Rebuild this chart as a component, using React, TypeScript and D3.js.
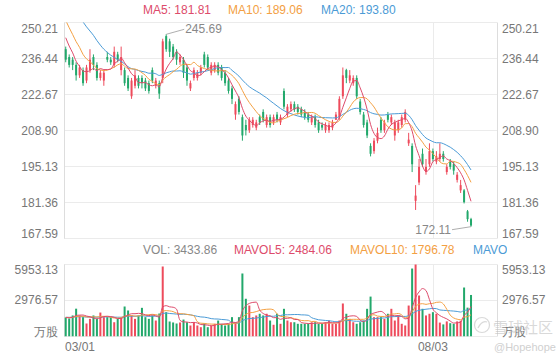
import React from "react";
import * as d3 from "d3";

// ---------- data ----------
const preCloses = [272, 270, 271, 268, 269, 270, 268, 267, 269, 266, 262, 260, 257, 255, 254, 250, 247, 246, 243];
const preVolumes = [1500, 1650, 1580, 1720, 1490, 1610, 1550, 1800, 1530, 1470, 1620, 1580, 1690, 1520, 1560, 1640, 1480, 1600, 1570];

const opens = [
  240, 237, 236, 234, 230, 232, 228, 232, 237, 234,
  229, 228, 237, 236, 234, 238, 232, 232, 229, 222,
  226, 229, 229, 228, 227, 232, 226, 227, 229, 245,
  243, 241, 239, 235, 236, 233, 225, 229, 229, 231,
  238, 237, 231, 232, 234, 233, 231, 228, 225, 215,
  221, 214, 211, 209, 211, 210, 214, 216, 211, 214,
  212, 215, 212, 224, 215, 217, 219, 218, 217, 216,
  215, 212, 214, 212, 211, 209, 209, 210, 213, 214,
  222, 232, 228, 227, 229, 220, 215, 212, 203, 201,
  205, 213, 209, 215, 212, 207, 209, 211, 213, 204,
  203, 182, 189, 200, 193, 196, 201, 197, 198, 200,
  193, 197, 196, 190, 186, 186, 178, 175,
];
const highs = [
  241, 238, 237, 235, 234, 233, 234, 240, 238, 235,
  232, 232, 239, 237, 241, 239, 241, 233, 230, 229,
  232, 230, 230, 229, 228, 233, 229, 228, 244, 245.69,
  244, 242, 240, 238, 237, 234, 228, 233, 232, 234,
  239, 238, 235, 235, 235, 234, 232, 229, 226, 220,
  222, 215, 213, 214, 214, 213, 215, 217, 215, 215,
  215, 216, 215, 225, 219, 220, 220, 219, 218, 217,
  216, 215, 215, 213, 212, 212, 212, 213, 216, 222,
  233, 232.5, 232, 230, 230, 221, 216, 213, 204, 206,
  210, 214, 213, 216, 215, 213, 213, 215, 217, 208,
  204, 188, 198, 202, 198, 204, 202, 201, 204, 201,
  196, 198, 197, 193, 190, 186.5, 178.5, 175.5,
];
const lows = [
  235, 233, 232, 228, 229, 226, 227, 231, 232, 228,
  228, 226, 235, 234, 233, 235, 230, 226, 224, 221,
  225, 225, 225, 224, 223, 227, 225, 221, 227, 239,
  237, 236, 234, 234, 229, 226, 224, 228, 228, 230,
  233, 232, 230, 231, 230, 228, 226, 223, 219, 213,
  215, 205, 207, 208, 210, 209, 211, 212, 210, 210,
  211, 212, 211, 217, 214, 216, 216, 215, 214, 213,
  212, 211, 210, 208, 209, 208, 208, 209, 213, 213,
  221, 227, 227, 226, 221, 215, 210, 206, 199, 200,
  204, 208, 208, 212, 211, 205, 208, 210, 212, 203,
  193, 178.5, 188, 195, 192, 195, 197, 196, 197, 197,
  192, 194, 192, 189, 185, 181, 174, 172.11,
];
const closes = [
  236, 234, 234, 230, 233, 227, 233, 236, 234, 229,
  231, 231, 236, 235, 239, 236, 237, 227, 225, 228,
  230, 226, 227, 225, 224, 228, 228, 223, 243, 240,
  239, 237, 236, 237, 231, 228, 227, 232, 231, 233,
  234, 233, 234, 234, 231, 229, 227, 224, 221, 219,
  216, 207, 209, 213, 213, 212, 212, 213, 214, 211,
  214, 213, 214, 218, 218, 219, 217, 216, 215, 214,
  213, 214, 211, 209, 210, 211, 211, 212, 215, 221,
  230, 229, 230, 229, 222, 216, 211, 207, 200, 205,
  208, 209, 212, 213, 214, 212, 212, 214, 216, 205.4,
  196, 184, 195, 196, 195, 201, 198, 199, 200, 198,
  195, 195, 193.55, 192, 188, 181.5, 175, 172.55,
];
const volumes = [
  1570, 1490, 1740, 2300, 1740, 1600, 1075, 1460, 1740, 1460,
  1980, 1600, 1600, 1600, 1180, 1460, 1600, 2480, 2150, 1740,
  1460, 1740, 2370, 1600, 1460, 1740, 1320, 1900, 5788, 2010,
  1240, 1160, 1075, 1160, 1400, 1180, 910, 1180, 910, 770,
  1075, 770, 910, 1050, 1320, 1050, 910, 1050, 1600, 1180,
  1600, 5210, 3120, 2560, 1600, 1740, 1880, 1740, 1880, 1320,
  970, 1880, 1050, 2290, 1320, 1180, 1180, 1050, 1050, 1050,
  1050, 1180, 1180, 1050, 1050, 1180, 1320, 1050, 1050, 1320,
  2730, 1880, 1460, 1180, 1050, 1180, 1320, 2290, 3300, 1600,
  1600, 1600, 1460, 1880, 2290, 1320, 1740, 1050, 910, 2560,
  5620, 5953.13, 3390, 2290, 1740, 1880, 2010, 1880, 1150, 1000,
  1250, 1100, 1047.5, 1250, 1300, 4050, 2386.44, 3433.86,
];

const priceTicks = [167.59, 181.36, 195.13, 208.9, 222.67, 236.44, 250.21];
const volumeTicks = [0, 2976.57, 5953.13];
const xTickIndex = [0, 106];
const xTickLabels = ["03/01", "08/03"];

// ---------- layout / style ----------
const SLOTS = 125;
const LEFT = 64;
const RIGHT = 497;
const MAIN_TOP = 22.5;
const MAIN_BOTTOM = 238.5;
const VOL_TOP = 264.5;
const VOL_BOTTOM = 336.5;
const UP = "#ee4b5c";
const DOWN = "#22a86b";
const C5 = "#dd4b6b";
const C10 = "#f3a043";
const C20 = "#4b9bd6";
const GRID = "#ebebeb";
const AXIS = "#dddddd";
const LABEL = "#777";
const FONT = "'Liberation Sans', Arial, Helvetica, sans-serif";

function movingAvg(series: number[], pre: number[], n: number): number[] {
  const all = pre.concat(series);
  const off = pre.length;
  return series.map((_, i) => {
    const k = i + off;
    const s = Math.max(0, k - n + 1);
    return d3.mean(all.slice(s, k + 1)) as number;
  });
}

export default function App() {
  const x = d3.scaleBand<number>().domain(d3.range(SLOTS)).range([LEFT, RIGHT]).padding(0);
  const cx = (i: number) => (x(i) as number) + x.bandwidth() / 2;
  const y = d3
    .scaleLinear()
    .domain([priceTicks[0], priceTicks[priceTicks.length - 1]])
    .range([MAIN_BOTTOM, MAIN_TOP]);
  const yv = d3
    .scaleLinear()
    .domain([volumeTicks[0], volumeTicks[volumeTicks.length - 1]])
    .range([VOL_BOTTOM, VOL_TOP]);

  const ma5 = movingAvg(closes, preCloses, 5);
  const ma10 = movingAvg(closes, preCloses, 10);
  const ma20 = movingAvg(closes, preCloses, 20);
  const mv5 = movingAvg(volumes, preVolumes, 5);
  const mv10 = movingAvg(volumes, preVolumes, 10);
  const mv20 = movingAvg(volumes, preVolumes, 20);

  const last = closes.length - 1;
  const lineP = d3
    .line<number>()
    .x((_, i) => cx(i))
    .y((v) => y(v))
    .curve(d3.curveMonotoneX);
  const lineV = d3
    .line<number>()
    .x((_, i) => cx(i))
    .y((v) => yv(v))
    .curve(d3.curveMonotoneX);

  const bw = 2;
  const iMax = d3.maxIndex(highs);
  const iMin = d3.minIndex(lows);
  const hx = cx(iMax);
  const hy = y(highs[iMax]);
  const lx = cx(iMin);
  const ly = y(lows[iMin]);

  const clampLabel = (yy: number, top: number, bottom: number) =>
    Math.min(Math.max(yy, top + 6.5), bottom - 4.5);

  const font = { fontFamily: FONT, fontSize: 12 } as const;

  return (
    <svg
      width={560}
      height={360}
      style={{ position: "absolute", left: 0, top: 0, background: "#fff" }}
    >
      <defs>
        <clipPath id="mainClip">
          <rect x={LEFT} y={MAIN_TOP} width={RIGHT - LEFT} height={MAIN_BOTTOM - MAIN_TOP} />
        </clipPath>
        <clipPath id="volClip">
          <rect x={LEFT} y={VOL_TOP - 2} width={RIGHT - LEFT} height={VOL_BOTTOM - VOL_TOP + 2} />
        </clipPath>
        <clipPath id="legendClip">
          <rect x={0} y={238} width={507} height={24} />
        </clipPath>
      </defs>

      {/* grid main */}
      {priceTicks.map((t) => (
        <line key={"g" + t} x1={LEFT} x2={RIGHT} y1={y(t)} y2={y(t)} stroke={GRID} />
      ))}
      {volumeTicks.map((t) => (
        <line key={"gv" + t} x1={LEFT} x2={RIGHT} y1={yv(t)} y2={yv(t)} stroke={GRID} />
      ))}
      {xTickIndex.slice(1).map((i) => (
        <g key={"vx" + i}>
          <line x1={Math.round(cx(i)) + 0.5} x2={Math.round(cx(i)) + 0.5} y1={MAIN_TOP} y2={MAIN_BOTTOM} stroke={GRID} />
          <line x1={Math.round(cx(i)) + 0.5} x2={Math.round(cx(i)) + 0.5} y1={VOL_TOP} y2={VOL_BOTTOM} stroke={GRID} />
        </g>
      ))}
      {/* borders */}
      <line x1={LEFT + 0.5} x2={LEFT + 0.5} y1={MAIN_TOP} y2={MAIN_BOTTOM} stroke={AXIS} />
      <line x1={RIGHT + 0.5} x2={RIGHT + 0.5} y1={MAIN_TOP} y2={MAIN_BOTTOM} stroke={AXIS} />
      <line x1={LEFT + 0.5} x2={LEFT + 0.5} y1={VOL_TOP} y2={VOL_BOTTOM} stroke={AXIS} />
      <line x1={RIGHT + 0.5} x2={RIGHT + 0.5} y1={VOL_TOP} y2={VOL_BOTTOM} stroke={AXIS} />

      {/* price labels */}
      {priceTicks.map((t) => {
        const yy = clampLabel(y(t), MAIN_TOP, MAIN_BOTTOM);
        return (
          <g key={"pl" + t} {...font} fill={LABEL}>
            <text x={58} y={yy} textAnchor="end" dominantBaseline="central">
              {t.toFixed(2)}
            </text>
            <text x={502} y={yy} textAnchor="start" dominantBaseline="central">
              {t.toFixed(2)}
            </text>
          </g>
        );
      })}
      {volumeTicks.map((t, k) => {
        const yy = clampLabel(yv(t), VOL_TOP - 1.5, VOL_BOTTOM);
        const txt = k === 0 ? "万股" : t.toFixed(2);
        return (
          <g key={"vl" + t} {...font} fill={LABEL}>
            <text x={58} y={yy} textAnchor="end" dominantBaseline="central">
              {txt}
            </text>
            <text x={502} y={yy} textAnchor="start" dominantBaseline="central">
              {txt}
            </text>
          </g>
        );
      })}
      {/* x labels */}
      {xTickIndex.map((i, k) => (
        <text
          key={"xl" + i}
          x={k === 0 ? LEFT + 1 : cx(i)}
          y={347}
          textAnchor={k === 0 ? "start" : "middle"}
          dominantBaseline="central"
          {...font}
          fill={LABEL}
        >
          {xTickLabels[k]}
        </text>
      ))}

      {/* candles */}
      <g clipPath="url(#mainClip)">
        {closes.map((c, i) => {
          const up = c >= opens[i];
          const col = up ? UP : DOWN;
          const xc = cx(i);
          const top = y(Math.max(c, opens[i]));
          const bot = y(Math.min(c, opens[i]));
          return (
            <g key={"c" + i}>
              <line x1={xc} x2={xc} y1={y(highs[i])} y2={y(lows[i])} stroke={col} strokeWidth={1} />
              <rect x={xc - bw / 2} y={top} width={bw} height={Math.max(1, bot - top)} fill={col} />
            </g>
          );
        })}
        <path d={lineP(ma20) || ""} fill="none" stroke={C20} strokeWidth={1} />
        <path d={lineP(ma10) || ""} fill="none" stroke={C10} strokeWidth={1} />
        <path d={lineP(ma5) || ""} fill="none" stroke={C5} strokeWidth={1} />
      </g>

      {/* high / low annotations */}
      <g stroke="#999" strokeWidth={0.8} fill="none">
        <polyline points={`${hx},${hy} ${hx + 18},${hy - 5}`} />
        <polyline points={`${lx},${ly} ${lx - 19},${ly + 3}`} />
      </g>
      <text x={hx + 19} y={hy - 5} dominantBaseline="central" {...font} fill="#888">
        {highs[iMax].toFixed(2)}
      </text>
      <text x={lx - 20} y={ly + 3.5} textAnchor="end" dominantBaseline="central" {...font} fill="#888">
        {lows[iMin].toFixed(2)}
      </text>

      {/* volume */}
      <g clipPath="url(#volClip)">
        {volumes.map((v, i) => {
          const up = closes[i] >= opens[i];
          return (
            <rect
              key={"v" + i}
              x={cx(i) - bw / 2}
              y={yv(v)}
              width={bw}
              height={VOL_BOTTOM - yv(v)}
              fill={up ? UP : DOWN}
            />
          );
        })}
        <path d={lineV(mv20) || ""} fill="none" stroke={C20} strokeWidth={1} />
        <path d={lineV(mv10) || ""} fill="none" stroke={C10} strokeWidth={1} />
        <path d={lineV(mv5) || ""} fill="none" stroke={C5} strokeWidth={1} />
      </g>

      {/* legends */}
      <g {...font} dominantBaseline="central">
        <text x={143} y={10} fill={C5}>{`MA5: ${ma5[last].toFixed(2)}`}</text>
        <text x={228} y={10} fill={C10}>{`MA10: ${ma10[last].toFixed(2)}`}</text>
        <text x={321} y={10} fill={C20}>{`MA20: ${ma20[last].toFixed(2)}`}</text>
      </g>
      <g {...font} dominantBaseline="central" clipPath="url(#legendClip)">
        <text x={143} y={250} fill="#888">{`VOL: ${volumes[last].toFixed(2)}`}</text>
        <text x={234} y={250} fill={C5}>{`MAVOL5: ${mv5[last].toFixed(2)}`}</text>
        <text x={350} y={250} fill={C10}>{`MAVOL10: ${mv10[last].toFixed(2)}`}</text>
        <text x={473} y={250} fill={C20}>{`MAVOL20: ${mv20[last].toFixed(2)}`}</text>
      </g>

      {/* watermark */}
      <g opacity={0.55}>
        <circle cx={482} cy={325} r={7.5} fill="none" stroke="#bbb" strokeWidth={1.2} />
        <path d="M478,328 Q482,320 487,322" fill="none" stroke="#bbb" strokeWidth={1.2} />
        <text x={493} y={326} dominantBaseline="central" fontFamily="'Noto Sans CJK SC', sans-serif" fontSize={15} fill="#bbb">
          雪球社区
        </text>
        <text x={494} y={347} dominantBaseline="central" fontFamily={FONT} fontSize={11} fill="#aaa">
          @Hopehope
        </text>
      </g>
    </svg>
  );
}
